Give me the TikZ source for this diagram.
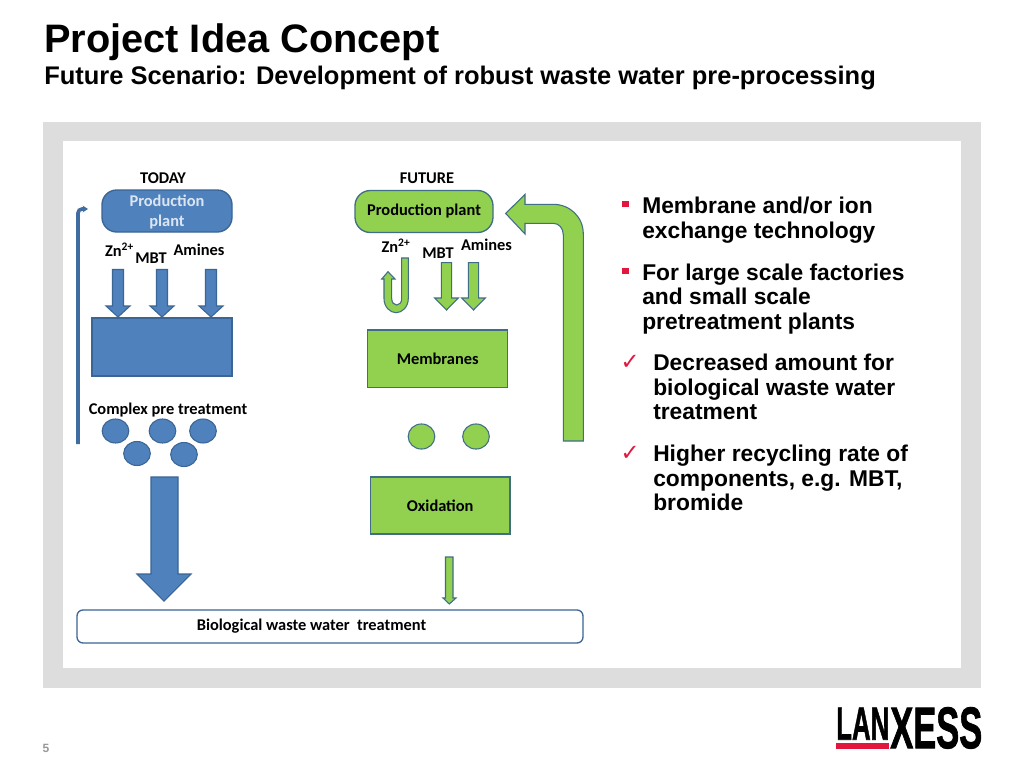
\documentclass[tikz,border=0pt]{standalone}
\usepackage{fontspec}
\usepackage{graphicx}
\setmainfont{Liberation Sans}
\newfontfamily\carlitofont{Carlito}
\newfontfamily\dejavufont{DejaVu Sans}
\newfontfamily\logofont[BoldFeatures={FakeBold=1.6}]{Liberation Sans}
\usetikzlibrary{arrows.meta}
\definecolor{bluefill}{HTML}{4F81BD}
\definecolor{blueline}{HTML}{3A6595}
\definecolor{greenfill}{HTML}{92D050}
\definecolor{greenline}{HTML}{3F6E85}
\definecolor{panel}{HTML}{DDDDDD}
\definecolor{lxred}{HTML}{E3173E}
\definecolor{ptext}{HTML}{DCE6F2}
\definecolor{pagegray}{HTML}{999999}
\tikzset{
  x=0.75pt,y=-0.75pt,
  lbl/.style={font=\carlitofont\bfseries\fontsize{12.3}{14}\selectfont,inner sep=0pt,text=black},
  bluebox/.style={draw=blueline,fill=bluefill,line width=1pt,inner sep=0pt},
  greenbox/.style={draw=greenline,fill=greenfill,line width=1pt,inner sep=0pt},
  bluearrow/.style={draw=blueline,fill=bluefill,line width=0.8pt,line join=miter},
  greenarrow/.style={draw=greenline,fill=greenfill,line width=0.8pt,line join=miter},
  bodytext/.style={anchor=north west,inner sep=0pt,align=left,text=black,font=\bfseries\fontsize{17.1}{18.4}\selectfont},
  squarebullet/.style={fill=lxred,inner sep=0pt,minimum size=5pt},
  checkbullet/.style={inner sep=0pt,text=lxred,font=\dejavufont\fontsize{17}{17}\selectfont},
}
\begin{document}
\begin{tikzpicture}
\useasboundingbox (0,0) rectangle (1024,768);
\fill[white] (0,0) rectangle (1024,768);
% panel
\fill[panel] (43,122) rectangle (981,688);
\fill[white] (63,141) rectangle (961,668);
% titles
\node[anchor=base west,inner sep=0pt,font=\bfseries\fontsize{29.8}{32}\selectfont] (title) at (44,52) {Project Idea Concept};
\node[anchor=base west,inner sep=0pt,font=\bfseries\fontsize{19.1}{22}\selectfont] (subtitle) at (44,84) {Future Scenario: Development of robust waste water pre-processing};
% TODAY
\node[lbl] (today) at (163,178) {TODAY};
\node[bluebox,minimum width=97.5pt,minimum height=31.5pt,rounded corners=11pt] (plantA) at (167,211) {};
\node[lbl,text=ptext,align=center,font=\carlitofont\bfseries\fontsize{12.3}{15}\selectfont] (plantAtxt) at (167,212) {Production\\plant};
\node[lbl] (znA) at (119.5,249.5) {Zn\textsuperscript{2+}};
\node[lbl] (mbtA) at (151,258) {MBT};
\node[lbl] (amA) at (199,249.5) {Amines};
\foreach \c/\n in {118/a,162/b,211/c}{
  \draw[bluearrow] (\c-5.5,269.5) -- (\c+5.5,269.5) -- (\c+5.5,306) -- (\c+12,306) -- (\c,317) -- (\c-12,306) -- (\c-5.5,306) -- cycle;
}
\node[bluebox,minimum width=105pt,minimum height=43.5pt] (pre) at (162,347) {};
\node[lbl] (complex) at (168,410.5) {Complex pre treatment};
\foreach \xx/\yy/\n in {115.5/431/c1,162.5/431/c2,203/431/c3,137/453.5/c4,184/454.5/c5}{
  \draw[draw=blueline,fill=bluefill,line width=0.8pt] (\xx,\yy) ellipse [x radius=10pt,y radius=9pt];
}
\coordinate (retStart) at (78,444);
\coordinate (retEnd) at (88,209);
\draw[blueline!70!bluefill,line width=2.7pt,rounded corners=3pt,-{Stealth[length=4pt,width=5pt]}] (retStart) -- (78,209) -- (retEnd);
\draw[bluearrow] (151,477) -- (178,477) -- (178,574) -- (191,574) -- (164,601) -- (137,574) -- (151,574) -- cycle;
% bottom
\node[draw=blueline,fill=white,line width=1pt,inner sep=0pt,minimum width=379.5pt,minimum height=24.75pt,rounded corners=4.5pt] (bio) at (330,626.5) {};
\node[lbl] (biotxt) at (311.5,626) {Biological waste water\ \ treatment};
% FUTURE
\node[lbl] (future) at (427,178) {FUTURE};
\node[greenbox,minimum width=103.5pt,minimum height=31.5pt,rounded corners=11.5pt,lbl,draw=greenline,text=black] (plantB) at (424,211.5) {Production plant};
\node[lbl] (znB) at (396,245.5) {Zn\textsuperscript{2+}};
\node[lbl] (mbtB) at (438,253.5) {MBT};
\node[lbl] (amB) at (486.5,244.5) {Amines};
\draw[greenarrow] (408.3,258) -- (408.3,298.5) .. controls (408.3,307) and (402,312.7) .. (396.2,312.7) .. controls (390,312.7) and (384,307) .. (384,298.5) -- (384,279) -- (381.7,279) -- (388,271.7) -- (395,279) -- (391.7,279) -- (391.7,298.5) .. controls (391.7,302.5) and (394,305) .. (396.7,305) .. controls (399.5,305) and (401.7,302.5) .. (401.7,298.5) -- (401.7,258) -- cycle;
\foreach \c in {446.5,473.5}{
  \draw[greenarrow] (\c-5.2,262.7) -- (\c+5.2,262.7) -- (\c+5.2,298) -- (\c+11.8,298) -- (\c,310) -- (\c-11.8,298) -- (\c-5.2,298) -- cycle;
}
\node[greenbox,lbl,draw=greenline,minimum width=105pt,minimum height=43pt] (memb) at (437.7,358.7) {Membranes};
\draw[greenarrow] (421.5,436.5) ellipse [x radius=10pt,y radius=9.4pt];
\draw[greenarrow] (476,436.5) ellipse [x radius=10pt,y radius=9.4pt];
\node[greenbox,lbl,draw=greenline,minimum width=104.6pt,minimum height=42.75pt] (oxi) at (440.2,505.5) {Oxidation};
\draw[greenarrow] (445.5,557) -- (453,557) -- (453,598) -- (456,598) -- (449.3,604) -- (443,598) -- (445.5,598) -- cycle;
\draw[greenarrow] (583.3,441) -- (563.3,441) -- (563.3,235) .. controls (563.3,228) and (559,223.3) .. (553,223.3) -- (525,223.3) -- (525,234) -- (505.7,213.5) -- (525,194.3) -- (525,204.3) -- (553,204.3) .. controls (570,204.3) and (583.3,217) .. (583.3,234) -- cycle;
% right text
\node[squarebullet] (b1) at (625.5,204) {};
\node[squarebullet] (b2) at (625.5,271) {};
\node[checkbullet] (b3) at (630,362) {✓};
\node[checkbullet] (b4) at (630,453) {✓};
\node[bodytext] (t1) at (642,197) {Membrane and/or ion\\exchange technology};
\node[bodytext] (t2) at (642,263.5) {For large scale factories\\and small scale\\pretreatment plants};
\node[bodytext] (t3) at (653,354) {Decreased amount for\\biological waste water\\treatment};
\node[bodytext] (t4) at (653,445) {Higher recycling rate of\\components, e.g. MBT,\\bromide};
% page number
\node[inner sep=0pt,text=pagegray,font=\bfseries\fontsize{9}{10}\selectfont] (page) at (46,748) {5};
% logo
\node[anchor=south west,inner sep=0pt] (lan) at (836,740) {\resizebox{39.75pt}{24pt}{\logofont\bfseries LAN}};
\fill[lxred] (836,743) rectangle (889,749);
\node[anchor=south west,inner sep=0pt] (xess) at (890,749) {\resizebox{69pt}{30.75pt}{\logofont\bfseries XESS}};
\end{tikzpicture}
\end{document}
